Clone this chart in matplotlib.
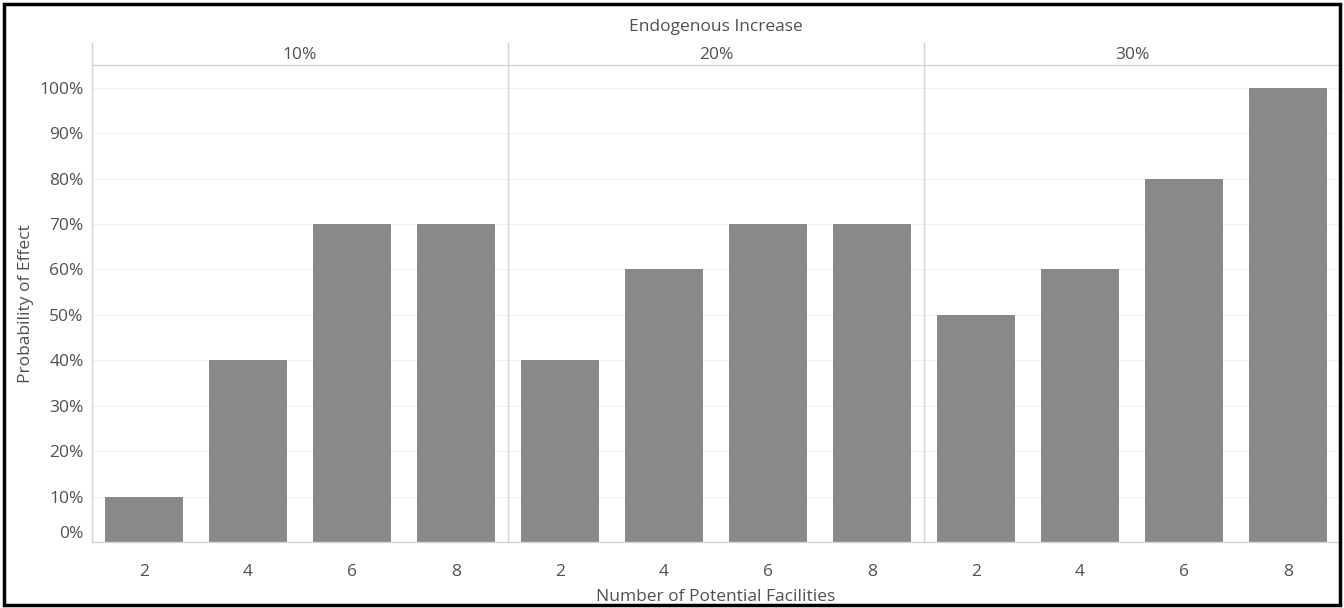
import numpy as np
import matplotlib
matplotlib.use('Agg')
from matplotlib import pyplot as plt
from matplotlib.lines import Line2D
from matplotlib.patches import Rectangle
from matplotlib.ticker import FuncFormatter

plt.rcParams['font.family'] = ['Open Sans', 'DejaVu Sans']

increase_labels = ['10%', '20%', '30%']
facilities = ['2', '4', '6', '8']
prob_10 = [0.10, 0.40, 0.70, 0.70]
prob_20 = [0.40, 0.60, 0.70, 0.70]
prob_30 = [0.50, 0.60, 0.80, 1.00]
panels = [prob_10, prob_20, prob_30]

W, H = 1344, 608
fig = plt.figure(figsize=(W / 100, H / 100), dpi=100)

text_col = '#505050'
line_col = '#d4d4d4'
bar_col = '#898989'
fs = 12.5

x0, x1 = 92, 1340
y_base, y_top, y_head = 542, 65, 43
pw = (x1 - x0) / 3

def fx(px):
    return px / W

def fy(py):
    return 1 - py / H

axes = []
for i, vals in enumerate(panels):
    ax = fig.add_axes([fx(x0 + i * pw), fy(y_base), pw / W, (y_base - y_top) / H])
    x = np.arange(len(facilities))
    ax.bar(x, vals, width=0.75, color=bar_col, zorder=2)
    ax.set_xlim(-0.5, len(facilities) - 0.5)
    ax.set_ylim(0, 1.05)
    ax.set_yticks(np.arange(0, 1.01, 0.1))
    ax.yaxis.grid(True, color='#f0f0f0', linewidth=0.8, zorder=0)
    ax.set_xticks(x)
    ax.set_xticklabels(facilities)
    ax.tick_params(axis='x', length=0, pad=16, labelsize=fs, labelcolor=text_col)
    ax.tick_params(axis='y', length=0, pad=6, labelsize=fs, labelcolor=text_col)
    for s in ['left', 'right']:
        ax.spines[s].set_visible(False)
    for s in ['top', 'bottom']:
        ax.spines[s].set_color(line_col)
        ax.spines[s].set_linewidth(1.0)
    if i == 0:
        ax.yaxis.set_major_formatter(FuncFormatter(lambda v, p: f'{v * 100:.0f}%'))
        ax.set_ylabel('Probability of Effect', fontsize=fs, color=text_col, labelpad=4)
    else:
        ax.set_yticklabels([])
    if i == 1:
        ax.set_xlabel('Number of Potential Facilities', fontsize=fs, color=text_col, labelpad=6)
    fig.text(fx(x0 + (i + 0.5) * pw), fy(55), increase_labels[i], ha='center', va='center',
             fontsize=fs, color=text_col)
    axes.append(ax)

# 0% label sits just above the baseline
axes[0].get_yticklabels()[0].set_verticalalignment('bottom')

fig.text(fx(x0 + 1.5 * pw), fy(27), 'Endogenous Increase', ha='center', va='center',
         fontsize=fs, color=text_col)

# panel separators
for k in range(3):
    xp = x0 + k * pw
    fig.add_artist(Line2D([fx(xp), fx(xp)], [fy(y_head), fy(y_base)], color=line_col, linewidth=1.0))

# figure border
fig.add_artist(Rectangle((fx(4), fy(605)), fx(1336), 601 / H, fill=False, edgecolor='black',
                         linewidth=2.5, transform=fig.transFigure))

fig.savefig('out.png', dpi=100)
